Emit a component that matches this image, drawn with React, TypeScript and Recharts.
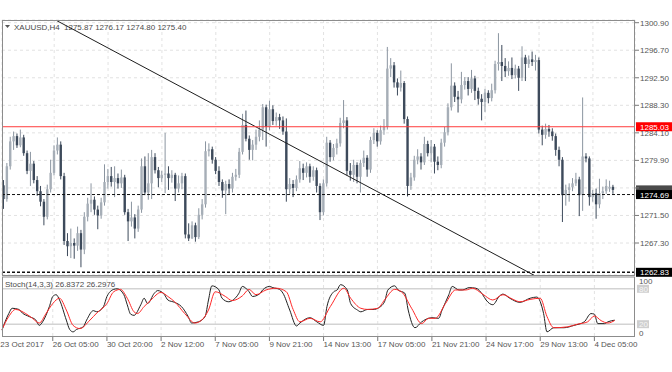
import React from 'react';
import { ComposedChart, Bar, Line, XAxis, YAxis, CartesianGrid, ReferenceLine } from 'recharts';

// [open, high, low, close] per H4 bar, XAUUSD
const candles: [number, number, number, number][] = [
  [1276.1, 1276.9, 1272.5, 1274.0], [1274.0, 1279.5, 1273.6, 1279.0], [1279.0, 1283.5, 1278.5, 1282.8], [1282.8, 1284.3, 1281.5, 1283.6],
  [1283.6, 1284.0, 1281.8, 1282.2], [1282.2, 1284.6, 1281.9, 1283.4], [1283.4, 1283.8, 1280.6, 1281.0], [1281.0, 1281.4, 1277.8, 1278.3],
  [1278.3, 1281.2, 1276.0, 1279.4], [1279.4, 1279.8, 1276.4, 1276.9], [1276.9, 1277.5, 1274.5, 1275.2], [1275.2, 1276.0, 1272.9, 1273.6],
  [1273.6, 1274.0, 1270.0, 1271.3], [1271.3, 1276.2, 1270.9, 1275.5], [1275.5, 1280.0, 1275.0, 1278.0], [1278.0, 1282.2, 1277.6, 1281.4],
  [1281.4, 1283.4, 1280.8, 1282.3], [1282.3, 1282.8, 1277.0, 1277.5], [1277.5, 1278.0, 1267.0, 1267.6], [1267.6, 1268.8, 1265.3, 1266.8],
  [1266.8, 1269.5, 1265.0, 1267.3], [1267.3, 1268.0, 1264.9, 1266.9], [1266.9, 1269.8, 1266.1, 1268.8], [1268.8, 1269.3, 1263.6, 1266.3],
  [1266.3, 1272.0, 1265.6, 1271.3], [1271.3, 1274.2, 1270.6, 1273.3], [1273.3, 1276.4, 1272.0, 1273.9], [1273.9, 1274.4, 1271.6, 1272.4],
  [1272.4, 1273.0, 1269.4, 1271.5], [1271.5, 1274.2, 1271.0, 1273.5], [1273.5, 1279.3, 1273.0, 1276.6], [1276.6, 1278.6, 1275.6, 1277.5],
  [1277.5, 1278.9, 1275.9, 1276.6], [1276.6, 1279.0, 1274.3, 1277.2], [1277.2, 1277.9, 1275.6, 1276.4], [1276.4, 1278.5, 1275.7, 1277.3],
  [1277.3, 1277.7, 1271.6, 1272.0], [1272.0, 1272.5, 1267.6, 1270.6], [1270.6, 1273.6, 1269.8, 1271.2], [1271.2, 1271.7, 1268.0, 1269.5],
  [1269.5, 1273.0, 1269.0, 1272.4], [1272.4, 1280.2, 1271.9, 1279.0], [1279.0, 1280.5, 1274.6, 1275.0], [1275.0, 1281.0, 1273.9, 1276.4],
  [1276.4, 1281.5, 1274.0, 1280.4], [1280.4, 1281.0, 1277.9, 1278.4], [1278.4, 1278.9, 1275.8, 1277.2], [1277.2, 1278.3, 1276.6, 1277.7],
  [1277.7, 1284.1, 1274.9, 1277.9], [1277.9, 1279.0, 1275.4, 1277.2], [1277.2, 1278.4, 1276.5, 1277.7], [1277.7, 1278.0, 1273.7, 1275.6],
  [1275.6, 1277.6, 1275.0, 1276.4], [1276.4, 1278.0, 1275.5, 1277.5], [1277.5, 1277.9, 1268.0, 1268.6], [1268.6, 1270.3, 1267.6, 1268.0],
  [1268.0, 1270.6, 1267.9, 1270.0], [1270.0, 1270.4, 1267.5, 1268.2], [1268.2, 1272.6, 1267.9, 1271.6], [1271.6, 1274.0, 1270.9, 1273.2],
  [1273.2, 1282.8, 1272.7, 1281.3], [1281.3, 1282.5, 1280.5, 1281.6], [1281.6, 1282.0, 1279.4, 1280.0], [1280.0, 1280.4, 1277.8, 1278.3],
  [1278.3, 1279.0, 1276.0, 1276.6], [1276.6, 1277.0, 1274.2, 1275.3], [1275.3, 1276.8, 1271.7, 1276.3], [1276.3, 1277.0, 1274.8, 1275.6],
  [1275.6, 1278.0, 1275.0, 1277.4], [1277.4, 1278.6, 1276.8, 1277.7], [1277.7, 1281.8, 1277.2, 1281.2], [1281.2, 1287.0, 1280.8, 1285.3],
  [1285.3, 1287.5, 1282.8, 1283.2], [1283.2, 1283.7, 1280.0, 1281.5], [1281.5, 1283.0, 1279.9, 1282.3], [1282.3, 1284.6, 1281.5, 1283.5],
  [1283.5, 1286.0, 1282.8, 1284.6], [1284.6, 1288.5, 1283.0, 1288.0], [1288.0, 1288.4, 1282.0, 1285.0], [1285.0, 1289.0, 1284.5, 1287.7],
  [1287.7, 1288.3, 1285.3, 1285.9], [1285.9, 1287.2, 1285.2, 1286.5], [1286.5, 1287.0, 1284.7, 1286.0], [1286.0, 1286.6, 1283.8, 1284.3],
  [1284.3, 1286.3, 1273.6, 1275.5], [1275.5, 1277.2, 1274.8, 1276.3], [1276.3, 1276.9, 1274.3, 1275.7], [1275.7, 1277.6, 1275.2, 1277.0],
  [1277.0, 1279.8, 1276.5, 1278.7], [1278.7, 1279.4, 1276.9, 1278.0], [1278.0, 1279.6, 1277.3, 1279.0], [1279.0, 1279.4, 1276.5, 1277.4],
  [1277.4, 1279.0, 1276.8, 1278.4], [1278.4, 1278.8, 1275.0, 1276.0], [1276.0, 1276.4, 1270.8, 1272.0], [1272.0, 1277.0, 1271.5, 1276.4],
  [1276.4, 1283.5, 1275.9, 1282.6], [1282.6, 1283.0, 1279.7, 1280.4], [1280.4, 1282.4, 1279.9, 1281.8], [1281.8, 1283.2, 1280.8, 1282.5],
  [1282.5, 1286.4, 1282.0, 1285.6], [1285.6, 1289.1, 1284.8, 1286.0], [1286.0, 1286.5, 1277.6, 1278.3], [1278.3, 1279.5, 1276.8, 1277.7],
  [1277.7, 1280.0, 1276.6, 1279.2], [1279.2, 1279.6, 1276.4, 1277.4], [1277.4, 1280.0, 1275.0, 1279.5], [1279.5, 1281.4, 1278.9, 1280.3],
  [1280.3, 1280.7, 1277.4, 1278.5], [1278.5, 1283.5, 1278.0, 1283.0], [1283.0, 1284.8, 1282.4, 1284.1], [1284.1, 1284.5, 1282.0, 1282.8],
  [1282.8, 1285.2, 1282.3, 1284.5], [1284.5, 1286.2, 1283.8, 1285.0], [1285.0, 1297.2, 1284.6, 1293.9], [1293.9, 1295.5, 1292.6, 1294.4],
  [1294.4, 1294.9, 1291.0, 1291.8], [1291.8, 1292.4, 1289.8, 1291.0], [1291.0, 1293.6, 1290.4, 1291.7], [1291.7, 1292.0, 1285.5, 1286.2],
  [1286.2, 1286.6, 1274.4, 1276.0], [1276.0, 1278.0, 1275.4, 1277.3], [1277.3, 1280.6, 1276.8, 1280.0], [1280.0, 1281.6, 1279.3, 1280.5],
  [1280.5, 1281.0, 1278.5, 1279.6], [1279.6, 1283.5, 1279.2, 1282.4], [1282.4, 1282.9, 1280.5, 1281.0], [1281.0, 1283.0, 1279.6, 1282.0],
  [1282.0, 1282.4, 1277.9, 1279.7], [1279.7, 1280.5, 1278.4, 1279.2], [1279.2, 1283.2, 1278.7, 1282.6], [1282.6, 1285.0, 1282.0, 1284.2],
  [1284.2, 1288.6, 1283.7, 1288.0], [1288.0, 1294.7, 1287.5, 1291.3], [1291.3, 1291.8, 1288.8, 1289.6], [1289.6, 1290.5, 1287.2, 1289.2],
  [1289.2, 1293.4, 1288.6, 1291.4], [1291.4, 1292.6, 1290.7, 1292.0], [1292.0, 1292.6, 1289.8, 1290.8], [1290.8, 1293.7, 1290.2, 1292.4],
  [1292.4, 1292.8, 1289.1, 1290.5], [1290.5, 1291.0, 1288.4, 1289.3], [1289.3, 1290.0, 1286.0, 1288.8], [1288.8, 1290.8, 1287.3, 1290.2],
  [1290.2, 1290.6, 1288.6, 1289.4], [1289.4, 1291.6, 1288.9, 1290.6], [1290.6, 1295.1, 1290.1, 1294.6], [1294.6, 1299.3, 1293.6, 1294.9],
  [1294.9, 1297.5, 1292.0, 1294.3], [1294.3, 1295.5, 1292.6, 1293.5], [1293.5, 1295.0, 1292.8, 1294.0], [1294.0, 1295.6, 1292.3, 1292.9],
  [1292.9, 1294.5, 1292.4, 1293.9], [1293.9, 1294.3, 1290.5, 1292.5], [1292.5, 1297.3, 1292.0, 1295.6], [1295.6, 1296.0, 1292.0, 1294.6],
  [1294.6, 1295.9, 1294.0, 1295.3], [1295.3, 1296.5, 1294.3, 1294.9], [1294.9, 1296.0, 1293.6, 1295.2], [1295.2, 1295.6, 1284.0, 1284.6],
  [1284.6, 1285.2, 1282.2, 1283.8], [1283.8, 1285.5, 1283.2, 1284.7], [1284.7, 1285.3, 1283.5, 1284.3], [1284.3, 1284.8, 1282.9, 1283.6],
  [1283.6, 1284.0, 1280.6, 1281.5], [1281.5, 1282.0, 1279.0, 1280.0], [1280.0, 1280.4, 1270.5, 1274.6], [1274.6, 1276.2, 1273.0, 1275.4],
  [1275.4, 1276.4, 1273.6, 1275.8], [1275.8, 1277.2, 1275.2, 1276.4], [1276.4, 1278.0, 1276.0, 1277.0], [1277.0, 1277.4, 1271.4, 1274.6],
  [1274.6, 1289.5, 1272.2, 1280.5], [1280.5, 1281.0, 1279.6, 1280.2], [1280.2, 1280.5, 1273.0, 1274.3], [1274.3, 1275.4, 1273.6, 1274.9],
  [1274.9, 1275.6, 1271.0, 1273.2], [1273.2, 1277.1, 1272.6, 1274.9], [1274.9, 1275.9, 1274.0, 1275.2], [1275.2, 1277.0, 1274.8, 1276.0],
  [1275.6, 1276.8, 1275.1, 1275.87], [1275.87, 1276.17, 1274.8, 1275.4],
];

const SLOT_COUNT = 188; // 182 bars + right shift
const priceTicks = [1267.3, 1271.5, 1275.7, 1279.9, 1284.1, 1288.3, 1292.5, 1296.7, 1300.9];
const hiddenPriceLabels = [1275.7]; // covered by the bid/line boxes
const priceDomain: [number, number] = [1262.42, 1301.31];
const dateTickIndex = [0, 15, 31, 47, 63, 79, 95, 111, 127, 143, 159, 175];
const dateTickLabel = ['23 Oct 2017', '26 Oct 05:00', '30 Oct 20:00', '2 Nov 12:00', '7 Nov 05:00', '9 Nov 21:00',
  '14 Nov 13:00', '17 Nov 05:00', '21 Nov 21:00', '24 Nov 17:00', '29 Nov 13:00', '4 Dec 05:00'];

// Stochastic %K (black) and %D (red): [bar index, value]
const stochK: [number, number][] = [
  [0, 10], [2, 38], [3, 47], [5, 45], [6, 39], [8, 33], [10, 27], [11, 18], [12, 24], [14, 50], [15, 67], [16, 70], [17, 61],
  [19, 27], [20, 11], [21, 7], [22, 11], [24, 15.5], [25, 27], [27, 43], [28, 41], [30, 50], [31, 67], [33, 79], [34, 80],
  [36, 70], [37, 53], [38, 37], [39, 35], [41, 53], [42, 64], [43, 55], [45, 72.5], [46, 77], [48, 70], [49, 61], [51, 57],
  [53, 50], [55, 33], [56, 22], [58, 24], [60, 33], [61, 61], [62, 85], [64, 79], [65, 64], [67, 58], [68, 60], [70, 72.5],
  [71, 84], [73, 75], [74, 67], [76, 71], [77, 78], [79, 84], [80, 82], [82, 79], [83, 72.5], [85, 44], [87, 17], [88, 22],
  [91, 31], [93, 24], [95, 18], [96, 50], [98, 75], [99, 78], [100, 87], [102, 78], [103, 55], [105, 44], [106, 41], [108, 45],
  [110, 45], [111, 47], [113, 58], [114, 78], [116, 85], [117, 78], [119, 72.5], [120, 44], [122, 14], [124, 24], [126, 30],
  [127, 31], [129, 30], [130, 44], [132, 70], [133, 84], [135, 78], [136, 78], [138, 82], [140, 81], [142, 70], [143, 61],
  [145, 53], [147, 68], [148, 71], [150, 64], [153, 57], [156, 64], [158, 66], [160, 38], [161, 7], [163, 14], [166, 14],
  [169, 18], [172, 24], [174, 38], [175, 37], [176, 21], [178, 21], [179, 24], [181, 26.84],
];
const stochD: [number, number][] = [
  [0, 11], [2, 33], [4, 45], [7, 38], [9, 30], [11, 22], [13, 38], [15, 55], [17, 64], [19, 44], [21, 18], [23, 12.6],
  [26, 27], [28, 39], [31, 55], [33, 75], [35, 79], [37, 64], [39, 41], [40, 38], [42, 50], [44, 61], [47, 74], [49, 67],
  [51, 58], [54, 38], [57, 22], [59, 27], [61, 44], [63, 75], [66, 67], [68, 60], [71, 68], [73, 79], [75, 70], [78, 78],
  [81, 81], [84, 75], [86, 45], [88, 24], [91, 30], [94, 24], [97, 50], [101, 81], [103, 64], [106, 47], [108, 45], [111, 47],
  [113, 61], [116, 79], [118, 75], [121, 47], [124, 21], [126, 30], [128, 30], [131, 55], [134, 78], [137, 78], [139, 81],
  [142, 71], [145, 61], [148, 70], [151, 62], [153, 58], [156, 62], [159, 64], [161, 33], [163, 14], [167, 15.5], [170, 20],
  [173, 24], [175, 34], [177, 26], [179, 22], [181, 26.3],
];
const stochLevels = [80, 20];
const stochAxisTicks = [0, 20, 80, 100];

const resistanceLevel = 1285.03;
const supportLevel = 1274.69;
const bidLevel = 1275.4;
const lowLevel = 1262.83;
const trendStart = { i: 0, price: 1305.53 };
const trendEnd = { i: 187, price: 1254.31 };

const kMap = new Map(stochK);
const dMap = new Map(stochD);
const rows = Array.from({ length: SLOT_COUNT }, (_, i) => {
  const c = candles[i];
  return {
    i,
    range: c ? [c[2], c[1]] : null,
    o: c ? c[0] : null,
    h: c ? c[1] : null,
    l: c ? c[2] : null,
    c: c ? c[3] : null,
    k: kMap.has(i) ? kMap.get(i) : null,
    d: dMap.has(i) ? dMap.get(i) : null,
  };
});

const FONT = "'Liberation Sans', Arial, sans-serif";
const BULL = '#a6aeb7';
const BULL_WICK = '#8b95a0';
const BEAR = '#3d4a5b';

const Candle = (props: any) => {
  const { x, y, width, height, payload } = props;
  if (!payload || payload.o == null) return null;
  const { o, h, l, c } = payload;
  const top = Math.min(y, y + height);
  const bot = Math.max(y, y + height);
  const span = h - l;
  const py = (v: number) => (span > 0 ? top + ((h - v) / span) * (bot - top) : top);
  const cx = x + width / 2;
  const bull = c >= o;
  const bTop = py(Math.max(o, c));
  const bBot = py(Math.min(o, c));
  const bh = Math.max(1, bBot - bTop);
  return (
    <g>
      <line x1={cx} x2={cx} y1={top} y2={bot} stroke={bull ? BULL_WICK : BEAR} strokeWidth={1} />
      <rect x={cx - 1.2} y={bTop} width={2.4} height={bh} fill={bull ? BULL : BEAR} />
    </g>
  );
};

const PriceTick = (props: any) => {
  const { x, y, payload } = props;
  const v = Number(payload.value);
  const hidden = hiddenPriceLabels.some((h) => Math.abs(h - v) < 1e-6);
  return (
    <g>
      <line x1={x} x2={x + 4} y1={y} y2={y} stroke="#7a7a7a" />
      {!hidden && (
        <text x={x + 5} y={y + 3} fontSize={8} fontFamily={FONT} fill="#555">{v.toFixed(2)}</text>
      )}
    </g>
  );
};

const StochTick = (props: any) => {
  const { x, y, payload } = props;
  const v = payload.value;
  if (v === 100) return <text x={x + 4} y={y + 7} fontSize={8} fontFamily={FONT} fill="#555">100</text>;
  if (v === 0) return <text x={x + 4} y={y} fontSize={8} fontFamily={FONT} fill="#555">0</text>;
  return (
    <g>
      <rect x={x + 2} y={y - 4} width={12} height={8} fill="#cfcfcf" />
      <text x={x + 4} y={y + 3} fontSize={8} fontFamily={FONT} fill="#f6f6f6">{v}</text>
    </g>
  );
};

const DateTick = (props: any) => {
  const { x, y, payload } = props;
  const idx = dateTickIndex.indexOf(payload.value);
  const first = payload.value === dateTickIndex[0];
  return (
    <g>
      {!first && <line x1={x} x2={x} y1={y + 1} y2={y + 5} stroke="#777" />}
      <text x={first ? x - 1.7 : x} y={y + 11} fontSize={8} fontFamily={FONT} fill="#555">{dateTickLabel[idx]}</text>
    </g>
  );
};

const boxLabel = (text: string, bg: string, fg: string, showText = true) => (props: any) => {
  const vb = props.viewBox || {};
  const x = (vb.x || 0) + (vb.width || 0);
  const y = vb.y || 0;
  return (
    <g>
      <rect x={x + 1} y={y - 4.5} width={36} height={9} fill={bg} />
      {showText && <text x={x + 5} y={y + 3} fontSize={8} fontFamily={FONT} fill={fg}>{text}</text>}
    </g>
  );
};

export default function App() {
  return (
    <div style={{ position: 'absolute', left: 0, top: 0, width: 672, height: 372, background: '#fff', overflow: 'hidden' }}>
      <div style={{ position: 'absolute', left: 0, top: 0 }}>
        <ComposedChart width={672} height={280} data={rows} margin={{ top: 20, right: 0, bottom: 5, left: 2 }} barCategoryGap={0} barGap={0}>
          <CartesianGrid stroke="#e2e2e2" strokeDasharray="3 3" />
          <XAxis dataKey="i" hide ticks={dateTickIndex.slice(1)} interval={0} />
          <YAxis orientation="right" width={37} domain={priceDomain} allowDataOverflow type="number" ticks={priceTicks}
            interval={0} tick={PriceTick} tickSize={0} tickMargin={0} axisLine={false} tickLine={false} />
          <Bar dataKey="range" shape={Candle} isAnimationActive={false} />
          <ReferenceLine segment={[{ x: trendStart.i, y: trendStart.price }, { x: trendEnd.i, y: trendEnd.price }]}
            stroke="#1e1e1e" strokeWidth={1} ifOverflow="hidden" />
          <ReferenceLine y={resistanceLevel} stroke="#ff3b3b" strokeWidth={1} label={boxLabel('1285.03', '#ff0000', '#fff')} />
          <ReferenceLine y={bidLevel} stroke="none" label={boxLabel('1275.40', '#4a4a4a', '#ddd', false)} />
          <ReferenceLine y={supportLevel} stroke="#111" strokeDasharray="3 2" label={boxLabel('1274.69', '#000', '#fff')} />
          <ReferenceLine y={lowLevel} stroke="#111" strokeWidth={1.6} strokeDasharray="3 2" label={boxLabel('1262.83', '#000', '#fff')} />
        </ComposedChart>
      </div>
      <div style={{ position: 'absolute', left: 0, top: 270 }}>
        <ComposedChart width={672} height={102} data={rows} margin={{ top: 7, right: 0, bottom: 0, left: 2 }}>
          <XAxis dataKey="i" ticks={dateTickIndex} interval={0} tick={DateTick} tickSize={0} tickMargin={0}
            axisLine={false} tickLine={false} height={36} />
          <YAxis orientation="right" width={37} domain={[0, 100]} type="number" ticks={stochAxisTicks} interval={0}
            tick={StochTick} tickSize={0} tickMargin={0} axisLine={false} tickLine={false} />
          {dateTickIndex.slice(1).map((t) => (
            <ReferenceLine key={t} x={t} stroke="#e2e2e2" strokeDasharray="3 3" />
          ))}
          {stochLevels.map((v) => (
            <ReferenceLine key={v} y={v} stroke="#d3d3d3" strokeWidth={1.6} />
          ))}
          <Line dataKey="k" type="monotone" stroke="#222" strokeWidth={1} dot={false} connectNulls isAnimationActive={false} />
          <Line dataKey="d" type="monotone" stroke="#ff2828" strokeWidth={1} dot={false} connectNulls isAnimationActive={false} />
        </ComposedChart>
      </div>
      <svg width={672} height={372} style={{ position: 'absolute', left: 0, top: 0, pointerEvents: 'none' }}>
        <rect x={2.5} y={20.5} width={632} height={255} fill="none" stroke="#8c8c8c" />
        <rect x={2.5} y={277} width={632} height={59.5} fill="none" stroke="#8c8c8c" />
        <polygon points="5,25 10,25 7.5,28" fill="#555" />
        <text x={14} y={30} fontSize={8} fontFamily={FONT} fill="#4a4a4a">XAUUSD,H4</text>
        <text x={64} y={30} fontSize={8} fontFamily={FONT} fill="#4a4a4a">1275.87 1276.17 1274.80 1275.40</text>
        <text x={5} y={287} fontSize={8} fontFamily={FONT} fill="#4a4a4a">Stoch(14,3,3) 26.8372 26.2976</text>
      </svg>
    </div>
  );
}
